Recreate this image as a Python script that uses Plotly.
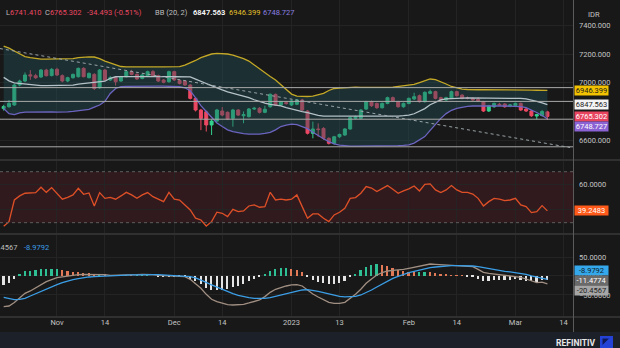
import pandas as pd
import plotly.graph_objects as go

# ---- daily sessions (the axis runs two sessions past the last bar) ----
sessions = pd.bdate_range("2022-10-18", "2023-03-14")

opens = [6820, 6833, 6845, 6984, 7012, 7055, 7049, 7040, 7088, 7050,
         7093, 7049, 7012, 7035, 7042, 7100, 7035, 7058, 6965, 7088,
         7019, 7035, 7012, 7042, 7077, 7058, 7030, 7049, 7077, 7049,
         7019, 7007, 7077, 7015, 7012, 6984, 6891, 6810, 6798, 6706,
         6733, 6803, 6794, 6752, 6810, 6770, 6764, 6817, 6822, 6794,
         6833, 6919, 6845, 6862, 6845, 6850, 6880, 6803, 6648, 6678,
         6682, 6613, 6578, 6624, 6636, 6678, 6752, 6752, 6817, 6868,
         6856, 6826, 6856, 6896, 6868, 6833, 6856, 6887, 6910, 6868,
         6926, 6938, 6896, 6880, 6891, 6938, 6914, 6893, 6891, 6885,
         6868, 6803, 6833, 6850, 6852, 6838, 6840, 6856, 6817, 6803,
         6768, 6772, 6797]
highs = [6846, 6880, 6992, 7021, 7072, 7088, 7062, 7096, 7097, 7102,
         7104, 7058, 7042, 7064, 7106, 7108, 7072, 7066, 7095, 7096,
         7046, 7042, 7048, 7084, 7090, 7066, 7062, 7084, 7088, 7056,
         7026, 7084, 7083, 7022, 7018, 6990, 6898, 6818, 6806, 6745,
         6818, 6830, 6800, 6818, 6816, 6800, 6824, 6832, 6830, 6840,
         6926, 6924, 6874, 6870, 6880, 6886, 6888, 6810, 6729, 6717,
         6690, 6620, 6630, 6646, 6684, 6764, 6770, 6817, 6874, 6876,
         6862, 6862, 6903, 6904, 6874, 6862, 6897, 6930, 6918, 6940,
         6952, 6944, 6902, 6902, 6945, 6944, 6920, 6904, 6898, 6900,
         6874, 6846, 6862, 6860, 6858, 6852, 6862, 6862, 6824, 6810,
         6784, 6810, 6805]
lows = [6806, 6826, 6840, 6975, 7004, 7020, 7026, 7033, 7044, 7044,
        7047, 7003, 7004, 7028, 7036, 7038, 7030, 6950, 6958, 7012,
        7012, 6980, 7006, 7036, 7052, 7020, 7024, 7044, 7043, 7005,
        6996, 7000, 7012, 6988, 6978, 6884, 6800, 6670, 6660, 6636,
        6726, 6766, 6740, 6694, 6768, 6718, 6758, 6810, 6786, 6788,
        6826, 6838, 6838, 6848, 6838, 6844, 6803, 6640, 6613, 6625,
        6604, 6570, 6570, 6616, 6630, 6672, 6745, 6745, 6810, 6832,
        6818, 6820, 6850, 6866, 6826, 6826, 6850, 6880, 6862, 6862,
        6920, 6884, 6874, 6874, 6886, 6904, 6884, 6884, 6874, 6866,
        6796, 6796, 6826, 6838, 6826, 6830, 6834, 6804, 6796, 6762,
        6745, 6765, 6741.410]
closes = [6835, 6856, 6984, 7012, 7054, 7048, 7035, 7088, 7049, 7093,
          7054, 7012, 7035, 7058, 7100, 7042, 7065, 6960, 7088, 7019,
          7035, 7007, 7042, 7077, 7058, 7026, 7054, 7077, 7049, 7012,
          7003, 7077, 7019, 6995, 6984, 6891, 6810, 6752, 6706, 6733,
          6810, 6775, 6747, 6810, 6775, 6778, 6817, 6822, 6794, 6815,
          6919, 6845, 6868, 6855, 6873, 6880, 6810, 6648, 6678, 6674,
          6613, 6578, 6624, 6640, 6678, 6757, 6762, 6810, 6868, 6840,
          6826, 6856, 6896, 6873, 6833, 6856, 6891, 6903, 6868, 6933,
          6938, 6891, 6880, 6896, 6938, 6910, 6891, 6891, 6880, 6873,
          6803, 6840, 6856, 6845, 6833, 6845, 6856, 6810, 6803, 6770,
          6778, 6799.795, 6765.302]

# Bollinger Bands (20, 2)
bb_upper = [7255, 7241, 7221, 7200, 7182, 7175, 7168, 7165, 7165, 7166,
            7165, 7164, 7165, 7168, 7175, 7179, 7180, 7179, 7168, 7151,
            7137, 7123, 7113, 7111, 7110, 7109, 7108, 7108, 7109, 7110,
            7111, 7110, 7109, 7112, 7123, 7137, 7155, 7175, 7189, 7200,
            7205, 7205, 7200, 7193, 7182, 7168, 7151, 7123, 7095, 7068,
            7043, 7019, 6984, 6949, 6921, 6907, 6904, 6904, 6907, 6914,
            6926, 6946, 6960, 6963, 6966, 6968, 6969, 6968, 6967, 6966,
            6966, 6967, 6968, 6970, 6974, 6977, 6981, 6988, 7001, 7015,
            7026, 7022, 7008, 6991, 6974, 6963, 6956, 6953, 6950, 6951,
            6952, 6951, 6950, 6949, 6948, 6948, 6949, 6949, 6948, 6948,
            6947.5, 6947, 6946.399]
bb_lower = [6820, 6785, 6778, 6790, 6796, 6797, 6796, 6795, 6796, 6797,
            6796, 6795, 6797, 6800, 6805, 6808, 6815, 6830, 6845, 6870,
            6925, 6960, 6972, 6975, 6976, 6976, 6975, 6974, 6975, 6976,
            6976, 6975, 6974, 6972, 6965, 6945, 6895, 6840, 6800, 6760,
            6720, 6695, 6672, 6660, 6652, 6646, 6642, 6640, 6642, 6647,
            6655, 6672, 6695, 6705, 6712, 6708, 6695, 6680, 6655, 6630,
            6610, 6590, 6575, 6566, 6561, 6559, 6558, 6558, 6559, 6560,
            6560, 6561, 6561, 6562, 6562, 6564, 6568, 6580, 6605, 6625,
            6668, 6710, 6752, 6785, 6808, 6822, 6830, 6835, 6838, 6839,
            6840, 6840, 6839, 6838, 6838, 6837, 6836, 6833, 6826, 6812,
            6793, 6772, 6748.727]

# RSI (14)
rsi = [27.2, 30.8, 47.8, 51.0, 53.1, 53.6, 53.6, 57.8, 53.8, 57.5,
       53.1, 48.4, 49.9, 51.8, 57.0, 52.3, 53.3, 43.1, 53.6, 49.1,
       49.9, 48.4, 51.0, 53.8, 51.8, 49.1, 51.8, 53.6, 50.4, 48.4,
       46.5, 53.8, 48.4, 47.8, 43.9, 40.0, 33.5, 32.1, 27.4, 30.8,
       38.2, 37.4, 34.8, 40.5, 38.7, 39.2, 43.1, 43.9, 42.1, 42.6,
       53.8, 47.8, 48.4, 47.8, 48.4, 51.8, 42.6, 33.5, 36.9, 36.9,
       33.5, 30.8, 36.1, 38.2, 41.3, 49.1, 49.7, 53.1, 58.3, 57.2,
       54.4, 57.0, 59.1, 56.2, 53.1, 54.9, 56.5, 58.8, 54.9, 60.1,
       60.4, 55.7, 53.6, 55.7, 59.1, 55.7, 53.8, 53.8, 52.5, 49.1,
       43.1, 46.5, 49.1, 48.4, 47.3, 47.8, 49.1, 43.9, 42.6, 37.9,
       38.7, 43.4, 39.2483]

# MACD (12, 26, 9)
macd = [-80.7, -79.0, -70.0, -58.7, -45.6, -39.4, -30.7, -21.9, -14.9, -9.6,
        -4.4, -2.6, 0.0, 1.8, 3.5, 4.4, 4.4, 3.5, 4.4, 3.5,
        1.8, 1.8, 2.7, 3.5, 3.5, 3.5, 4.4, 4.4, 3.5, 1.8,
        0.9, 1.8, 0.0, -0.8, -1.7, -8.7, -19.3, -32.4, -48.2, -61.4,
        -67.5, -71.9, -75.4, -76.3, -76.3, -74.5, -71.0, -67.5, -63.1, -54.3,
        -43.0, -35.0, -29.8, -26.3, -23.6, -22.8, -26.3, -36.8, -47.3, -55.2,
        -63.1, -69.3, -71.9, -71.9, -69.3, -58.7, -48.2, -35.0, -19.3, -7.9,
        2.7, 8.8, 13.2, 14.9, 15.8, 17.6, 20.2, 22.8, 26.3, 29.8,
        31.6, 30.7, 29.8, 29.0, 29.8, 29.0, 28.1, 26.3, 24.6, 17.6,
        9.7, 7.0, 5.3, 3.5, 1.8, 0.9, 0.0, -3.5, -7.9, -13.1,
        -17.5, -16.0, -20.456651]
signal = [-56.1, -59.6, -62.2, -61.4, -58.7, -52.6, -46.5, -39.4, -33.3, -28.0,
          -22.8, -17.5, -13.1, -9.6, -7.0, -4.4, -2.6, -1.7, -0.8, 0.0,
          0.9, 0.9, 1.8, 1.8, 2.7, 2.7, 3.5, 3.5, 3.5, 3.5,
          2.7, 2.7, 1.8, 0.9, 0.0, -1.7, -5.2, -10.5, -16.6, -23.6,
          -29.8, -35.9, -41.2, -46.5, -50.8, -54.3, -56.9, -58.7, -59.6, -58.7,
          -56.9, -53.5, -50.0, -46.5, -43.0, -39.4, -36.8, -35.9, -37.7, -40.3,
          -43.8, -47.3, -50.8, -53.5, -55.2, -55.2, -53.5, -50.0, -43.8, -36.8,
          -28.9, -21.0, -13.1, -6.1, -0.8, 4.4, 8.8, 12.3, 15.8, 19.3,
          21.9, 23.7, 25.5, 26.3, 27.2, 27.2, 27.2, 27.2, 26.3, 24.6,
          21.9, 19.3, 16.7, 14.0, 12.3, 10.6, 8.8, 7.0, 4.4, 0.5,
          -2.5, -5.2, -8.979211]

# axis labels
tick_dates = ["2022-11-01", "2022-11-14", "2022-12-01", "2022-12-14", "2023-01-02",
              "2023-01-13", "2023-02-01", "2023-02-14", "2023-03-01", "2023-03-14"]
tick_labels = ["Nov", "14", "Dec", "14", "2023", "13", "Feb", "14", "Mar", "14"]
price_ticks = [6600, 7000, 7200, 7400]
rsi_ticks = [40, 60]
macd_ticks = [-50, 0, 50]

# drawn support / resistance levels and the falling trend line (session position, price)
sr_levels = [6966, 6870, 6746, 6554]
trend_pos = [-0.7, 106.25]
trend_price = [7238, 6549]

# ---------------------------------------------------------------------------
W, H = 620, 348
BG = "#181818"
GREEN, RED = "#33d08e", "#ec4863"
YELLOW, PURPLE, MIDC = "#c4a826", "#6c64c0", "#b4c2c8"
GRID = "#242424"
TXT = "#c4c4c4"
FONT = "Roboto"


def px(x):
    return x / W


def py(y):
    return 1 - y / H


n = len(closes)
xs = list(range(n))
bb_mid = [(u + l) / 2 for u, l in zip(bb_upper, bb_lower)]
hist = [m - s for m, s in zip(macd, signal)]
hist_colors = []
for i, h in enumerate(hist):
    prev = hist[i - 1] if i else h
    if h >= 0:
        hist_colors.append("#2fbf95" if h >= prev else "#e27a57")
    else:
        hist_colors.append("#e4e4e4")

tick_pos = [sessions.get_loc(pd.Timestamp(d)) for d in tick_dates]
x_range = [-0.69, 106.8]

fig = go.Figure()

# ---- price pane ----
fig.add_trace(go.Scatter(x=xs, y=bb_upper, mode="lines", line=dict(color=YELLOW, width=1.3),
                         xaxis="x", yaxis="y", hoverinfo="skip"))
fig.add_trace(go.Scatter(x=xs, y=bb_lower, mode="lines", line=dict(color=PURPLE, width=1.3),
                         fill="tonexty", fillcolor="rgba(36,80,88,0.42)",
                         xaxis="x", yaxis="y", hoverinfo="skip"))
fig.add_trace(go.Scatter(x=xs, y=bb_mid, mode="lines", line=dict(color=MIDC, width=1.3),
                         xaxis="x", yaxis="y", hoverinfo="skip"))
for lvl in sr_levels:
    fig.add_trace(go.Scatter(x=x_range, y=[lvl, lvl], mode="lines",
                             line=dict(color="#a9a9a9", width=1), xaxis="x", yaxis="y", hoverinfo="skip"))
fig.add_trace(go.Scatter(x=trend_pos, y=trend_price, mode="lines",
                         line=dict(color="#9aa4a8", width=1, dash="3px,3px"),
                         xaxis="x", yaxis="y", hoverinfo="skip"))
fig.add_trace(go.Candlestick(x=xs, open=opens, high=highs, low=lows, close=closes,
                             increasing=dict(line=dict(color=GREEN, width=1), fillcolor=GREEN),
                             decreasing=dict(line=dict(color=RED, width=1), fillcolor=RED),
                             xaxis="x", yaxis="y", hoverinfo="skip"))

# ---- RSI pane ----
fig.add_trace(go.Scatter(x=xs, y=rsi, mode="lines", line=dict(color="#df5027", width=1.3),
                         xaxis="x2", yaxis="y2", hoverinfo="skip"))

# ---- MACD pane ----
fig.add_trace(go.Bar(x=xs, y=hist, marker=dict(color=hist_colors, line=dict(width=0)), width=0.32,
                     xaxis="x3", yaxis="y3", hoverinfo="skip"))
fig.add_trace(go.Scatter(x=xs, y=macd, mode="lines", line=dict(color="#a08f82", width=1.3),
                         xaxis="x3", yaxis="y3", hoverinfo="skip"))
fig.add_trace(go.Scatter(x=xs, y=signal, mode="lines", line=dict(color="#3b9ee6", width=1.3),
                         xaxis="x3", yaxis="y3", hoverinfo="skip"))

xdom = [0, px(573)]
xcommon = dict(domain=xdom, range=x_range, tickvals=tick_pos, showgrid=True, gridcolor=GRID,
               gridwidth=1, zeroline=False, showline=False, ticks="", fixedrange=True)
ycommon = dict(side="right", showgrid=True, gridcolor=GRID, zeroline=False, showline=False,
               ticks="", tickfont=dict(family=FONT, size=7.5, color=TXT), ticklabelstandoff=5)

fig.update_layout(
    width=W, height=H, margin=dict(l=0, r=0, t=0, b=0),
    paper_bgcolor=BG, plot_bgcolor=BG, showlegend=False, bargap=0, boxgap=0.2,
    xaxis=dict(**xcommon, anchor="y", showticklabels=False, rangeslider=dict(visible=False)),
    xaxis2=dict(**xcommon, anchor="y2", showticklabels=False, matches="x"),
    xaxis3=dict(**xcommon, anchor="y3", matches="x", showticklabels=True, ticktext=tick_labels,
                tickfont=dict(family=FONT, size=7.5, color=TXT)),
    yaxis=dict(**ycommon, domain=[py(159), 1], range=[6469, 7576], tickvals=price_ticks,
               tickformat=".3f", anchor="x"),
    yaxis2=dict(**ycommon, domain=[py(233), py(161)], range=[21.9, 78.4], tickvals=rsi_ticks,
                tickformat=".4f", anchor="x2"),
    yaxis3=dict(**ycommon, domain=[py(316), py(235)], range=[-105.3, 107.9], tickvals=macd_ticks,
                tickformat=".4f", anchor="x3"),
)

shapes = [
    # RSI 30-70 zone
    dict(type="rect", xref="x2 domain", yref="y2", x0=0, x1=1, y0=30, y1=70,
         fillcolor="rgba(110,32,48,0.30)", line=dict(width=0), layer="below"),
    dict(type="line", xref="x2 domain", yref="y2", x0=0, x1=1, y0=70, y1=70,
         line=dict(color="#5e5e5e", width=1, dash="dot")),
    dict(type="line", xref="x2 domain", yref="y2", x0=0, x1=1, y0=30, y1=30,
         line=dict(color="#5e5e5e", width=1, dash="dot")),
    # pane separators
    dict(type="line", xref="paper", yref="paper", x0=0, x1=1, y0=py(160), y1=py(160),
         line=dict(color="#484848", width=1)),
    dict(type="line", xref="paper", yref="paper", x0=0, x1=1, y0=py(234), y1=py(234),
         line=dict(color="#484848", width=1)),
    dict(type="line", xref="paper", yref="paper", x0=0, x1=1, y0=py(317), y1=py(317),
         line=dict(color="#484848", width=1)),
    dict(type="line", xref="paper", yref="paper", x0=px(573.5), x1=px(573.5), y0=py(332), y1=1,
         line=dict(color="#5a5a5a", width=1)),
    # footer strip and logo
    dict(type="rect", xref="paper", yref="paper", x0=0, x1=1, y0=0, y1=py(332),
         fillcolor="#1c2028", line=dict(width=0)),
    dict(type="rect", xref="paper", yref="paper", x0=px(600), x1=px(613), y0=py(348), y1=py(336),
         fillcolor="#2443d6", line=dict(width=0)),
    dict(type="path", xref="paper", yref="paper",
         path=f"M {px(602.5)} {py(338.5)} L {px(609)} {py(338.5)} L {px(602.5)} {py(345)} Z",
         fillcolor="#0e1a5c", line=dict(width=0)),
]
fig.update_layout(shapes=shapes)


def hdr(x, y, text, color, bold=False):
    return dict(x=px(x), y=py(y), xref="paper", yref="paper", xanchor="left", yanchor="middle",
                showarrow=False, text=f"<b>{text}</b>" if bold else text,
                font=dict(family=FONT, size=7.5, color=color))


chg = closes[-1] - closes[-2]
pct = chg / closes[-2] * 100
GRAYTXT = "#bdbdbd"
ann = [
    hdr(4, 13, f"<span style='color:{GRAYTXT}'>L</span>{lows[-1]:.3f}", RED),
    hdr(43, 13, f"<span style='color:{GRAYTXT}'>C</span>{closes[-1]:.3f}", RED),
    hdr(85, 13, f"{chg:.3f} ({pct:.2f}%)", RED),
    hdr(153, 13, "BB (20, 2)", GRAYTXT),
    hdr(191, 13, f"{bb_mid[-1]:.3f}", "#f2f2f2", bold=True),
    hdr(227, 13, f"{bb_upper[-1]:.3f}", "#e5c22a"),
    hdr(261, 13, f"{bb_lower[-1]:.3f}", "#8b7fe0"),
    dict(x=px(18.5), y=py(247), xref="paper", yref="paper", xanchor="right", yanchor="middle",
         showarrow=False, text=f"{macd[-1]:.4f}", font=dict(family=FONT, size=7.5, color=GRAYTXT)),
    hdr(22, 247, f"{signal[-1]:.4f}", "#3b9ee6"),
    dict(x=px(594), y=py(14), xref="paper", yref="paper", xanchor="center", yanchor="middle",
         showarrow=False, text="IDR", font=dict(family=FONT, size=7.5, color=TXT)),
    dict(x=px(597), y=py(342.5), xref="paper", yref="paper", xanchor="right", yanchor="middle",
         showarrow=False, text="<b>REFINITIV</b>", font=dict(family=FONT, size=8.5, color="#e8e8e8")),
]


def tag(value, yref, text, bg, fg, shift=0):
    return dict(x=px(573.5), y=value, xref="paper", yref=yref, xanchor="left", yanchor="middle",
                yshift=shift, showarrow=False, text=text, bgcolor=bg, width=33, height=9,
                borderpad=0, align="center", font=dict(family=FONT, size=7.5, color=fg))


ann += [
    tag(bb_upper[-1], "y", f"{bb_upper[-1]:.3f}", "#f2c200", "#1a1a1a"),
    tag(bb_mid[-1], "y", f"{bb_mid[-1]:.3f}", "#f4f4f4", "#1a1a1a"),
    tag(closes[-1], "y", f"{closes[-1]:.3f}", "#e8445f", "#ffffff"),
    tag(bb_lower[-1], "y", f"{bb_lower[-1]:.3f}", "#8a62d4", "#ffffff", shift=-8),
    tag(rsi[-1], "y2", f"{rsi[-1]:.4f}", "#ff5a1a", "#ffffff"),
    tag(signal[-1], "y3", f"{signal[-1]:.4f}", "#35a8ec", "#0e1e2a", shift=9),
    tag(hist[-1], "y3", f"{hist[-1]:.4f}", "#6a6a6a", "#ffffff"),
    tag(macd[-1], "y3", f"{macd[-1]:.4f}", "#a6a6a6", "#222222", shift=-7),
]
fig.update_layout(annotations=ann)

fig.write_html("out.html")
